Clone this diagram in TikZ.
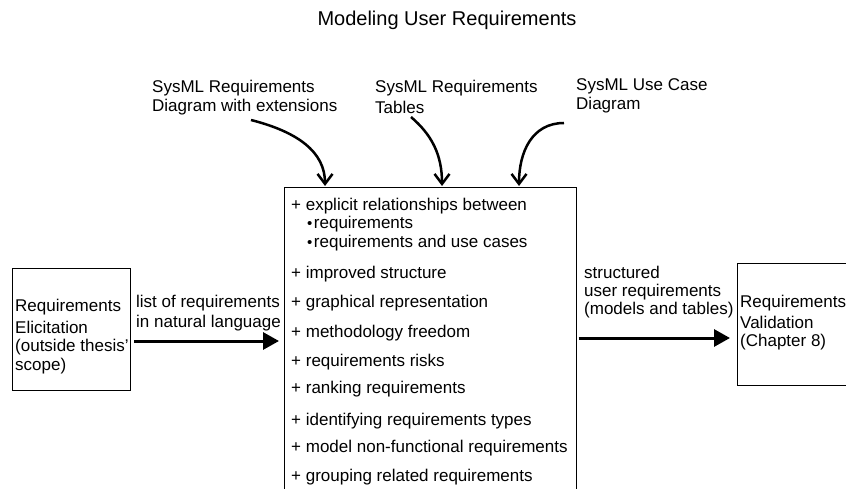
\documentclass[tikz,border=0pt]{standalone}
\usepackage{fontspec}
\setmainfont{Liberation Sans}
\usetikzlibrary{arrows.meta}
\newcommand{\smbul}{{\fontsize{15}{15}\selectfont\raisebox{0.3pt}{•}}\hspace{1.5pt}}
\begin{document}
\begin{tikzpicture}[x=1pt,y=-1pt,
  txt/.style={anchor=west,inner sep=0pt,font=\fontsize{17}{19}\selectfont},
  box/.style={draw,line width=0.8pt,inner sep=0pt},
  flow/.style={line width=3pt,-{Triangle[length=16pt,width=17pt]}},
  feed/.style={line width=2.5pt,-{Straight Barb[length=10pt,width=15pt]}}]
\useasboundingbox (0,0) rectangle (846,489);

% title
\node[inner sep=0pt,font=\fontsize{20}{22}\selectfont] (title) at (447,20) {Modeling User Requirements};

% boxes
\node[box,anchor=north west,minimum width=117.6pt,minimum height=122pt] (elic) at (11.9,268) {};
\node[box,anchor=north west,minimum width=292pt,minimum height=330pt] (main) at (284,187) {};
\node[box,anchor=north west,minimum width=120pt,minimum height=122pt] (valid) at (737,263) {};

% left box text
\node[txt] (e1) at (15,307) {Requirements};
\node[txt] (e2) at (15,327) {Elicitation};
\node[txt] (e3) at (15,347) {(outside thesis'};
\node[txt] (e4) at (15,366) {scope)};

% right box text
\node[txt] (v1) at (740,303) {Requirements};
\node[txt] (v2) at (740,322) {Validation};
\node[txt] (v3) at (740,342) {(Chapter 8)};

% main box text
\node[txt] (m1) at (291,206) {+ explicit relationships between};
\node[txt] (m2) at (307,224) {\smbul requirements};
\node[txt] (m3) at (307,243) {\smbul requirements and use cases};
\node[txt] (m4) at (291,274) {+ improved structure};
\node[txt] (m5) at (291,303) {+ graphical representation};
\node[txt] (m6) at (291,333) {+ methodology freedom};
\node[txt] (m7) at (291,362) {+ requirements risks};
\node[txt] (m8) at (291,389) {+ ranking requirements};
\node[txt] (m9) at (291,421) {+ identifying requirements types};
\node[txt] (m10) at (291,448) {+ model non-functional requirements};
\node[txt] (m11) at (291,477) {+ grouping related requirements};

% flow labels
\node[txt] (l1) at (136,303) {list of requirements};
\node[txt] (l2) at (136,323) {in natural language};
\node[txt] (r1) at (584,272) {structured};
\node[txt] (r2) at (584,292) {user requirements};
\node[txt] (r3) at (584,310) {(models and tables)};

% top labels
\node[txt] (s1a) at (152,88) {SysML Requirements};
\node[txt] (s1b) at (152,107) {Diagram with extensions};
\node[txt] (s2a) at (375,88) {SysML Requirements};
\node[txt] (s2b) at (375,107) {Tables};
\node[txt] (s3a) at (576,86) {SysML Use Case};
\node[txt] (s3b) at (576,105) {Diagram};

% connector endpoints
\coordinate (ls) at (134,341);
\coordinate (le) at (279,341);
\coordinate (rs) at (578.5,338);
\coordinate (re) at (730,338);
\coordinate (c1) at (251,120);
\coordinate (c2) at (411,117);
\coordinate (c3) at (564,123);
\coordinate (t1) at (325,186);
\coordinate (t2) at (442,186);
\coordinate (t3) at (519,186);

\draw[flow] (ls) -- (le);
\draw[flow] (rs) -- (re);
\draw[feed] (c1) .. controls (298,132) and (325,152) .. (t1);
\draw[feed] (c2) .. controls (432,135) and (442,155) .. (t2);
\draw[feed] (c3) .. controls (532,123) and (519,152) .. (t3);
\end{tikzpicture}
\end{document}
